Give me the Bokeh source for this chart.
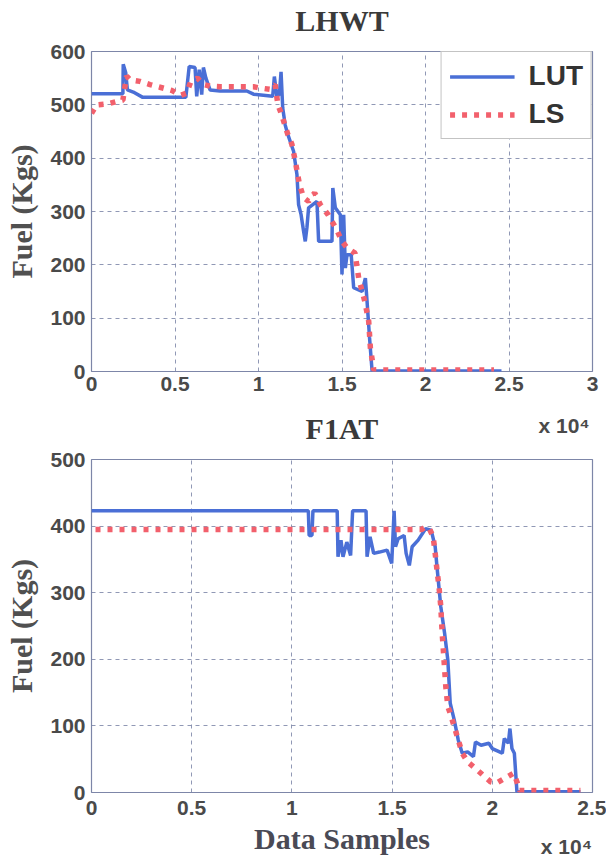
from bokeh.plotting import figure
from bokeh.models import (Range1d, FixedTicker, Legend, LegendItem, LinearAxis,
                          CustomJSTickFormatter)
from bokeh.layouts import column
from bokeh.embed import file_html
from bokeh.resources import INLINE

# ---------------- data (x in units of 10^4 samples, y in Kgs) ----------------
lhwt_lut_x = [0, 0.188, 0.19, 0.205, 0.215, 0.25, 0.307, 0.565, 0.585, 0.62,
              0.63, 0.645, 0.66, 0.67, 0.685, 0.71, 0.77, 0.93, 0.97, 1.085,
              1.095, 1.11, 1.125, 1.135, 1.145, 1.16, 1.175, 1.21, 1.23, 1.24,
              1.255, 1.27, 1.28, 1.29, 1.30, 1.35, 1.36, 1.44, 1.445, 1.46,
              1.49, 1.50, 1.51, 1.52, 1.53, 1.555, 1.57, 1.62, 1.64, 1.65,
              1.665, 1.68, 2.455]
lhwt_lut_y = [521, 521, 576, 560, 528, 524, 514, 514, 572, 570,
              516, 566, 519, 570, 550, 528, 526, 526, 520, 516,
              553, 516, 520, 562, 494, 462, 445, 413, 370, 313,
              294, 263, 244, 270, 307, 319, 244, 244, 344, 307,
              294, 182, 294, 194, 219, 219, 157, 150, 175, 132,
              63, 1, 1]

lhwt_ls_x = [0, 0.03, 0.1, 0.188, 0.21, 0.23, 0.29, 0.35, 0.41, 0.48,
             0.535, 0.57, 0.595, 0.635, 0.67, 0.71, 0.77, 0.97, 1.0, 1.07,
             1.1, 1.116, 1.13, 1.15, 1.175, 1.2, 1.22, 1.245, 1.27, 1.30,
             1.336, 1.37, 1.417, 1.463, 1.50, 1.53, 1.578, 1.60, 1.636, 1.66,
             1.67, 1.69, 2.41]
lhwt_ls_y = [484, 500, 502, 509, 554, 547, 544, 538, 533, 527,
             518, 522, 544, 550, 538, 535, 534, 534, 532, 529,
             538, 500, 489, 470, 445, 426, 395, 351, 326, 319,
             335, 313, 294, 269, 244, 232, 222, 175, 132, 94,
             44, 3, 3]

f1at_lut_x = [0, 1.082, 1.086, 1.10, 1.105, 1.226, 1.23, 1.245, 1.255, 1.274,
              1.293, 1.303, 1.37, 1.375, 1.39, 1.408, 1.437, 1.475, 1.498, 1.51,
              1.517, 1.53, 1.56, 1.57, 1.586, 1.60, 1.63, 1.667, 1.695, 1.715,
              1.724, 1.743, 1.762, 1.778, 1.79, 1.81, 1.83, 1.85, 1.877, 1.906,
              1.916, 1.944, 1.983, 2.0, 2.05, 2.06, 2.08, 2.088, 2.098, 2.11,
              2.123, 2.44]
f1at_lut_y = [423, 423, 386, 386, 423, 423, 354, 379, 354, 376,
              356, 423, 423, 354, 384, 359, 361, 364, 344, 423,
              369, 381, 386, 359, 341, 369, 379, 396, 394, 369,
              339, 279, 239, 199, 134, 109, 79, 59, 61, 54,
              76, 71, 74, 66, 59, 81, 74, 96, 66, 59,
              1, 1]

f1at_ls_x = [0.02, 1.648, 1.667, 1.686, 1.705, 1.715, 1.724, 1.734, 1.743, 1.75,
             1.759, 1.768, 1.778, 1.79, 1.81, 1.83, 1.85, 1.877, 1.916, 1.954,
             1.992, 2.02, 2.06, 2.107, 2.123, 2.136, 2.44]
f1at_ls_y = [395, 395, 399, 396, 384, 359, 334, 309, 279, 239,
             199, 159, 129, 119, 99, 79, 59, 46, 36, 26,
             16, 14, 21, 29, 16, 3, 3]

lhwt_xticks = [0, 0.5, 1, 1.5, 2, 2.5, 3]
lhwt_yticks = [0, 100, 200, 300, 400, 500, 600]
f1at_xticks = [0, 0.5, 1, 1.5, 2, 2.5]
f1at_yticks = [0, 100, 200, 300, 400, 500]

titles = ["LHWT", "F1AT"]
series_names = ["LUT", "LS"]
y_label = "Fuel (Kgs)"
x_label = "Data Samples"
scale_text = "x 10\u2074"
scale_pos = [2.83, 2.37]   # where the "x 10^4" note sits under each x axis

# ---------------- style ----------------
BLUE = "#4a6fd6"
RED = "#f2606c"
FRAME = "#7d86a8"
TXT = "#4a4a4a"
SERIF = "Liberation Serif"
SANS = "Liberation Sans"


def bare_axis(ax):
    ax.axis_line_color = None
    ax.major_tick_line_color = None
    ax.minor_tick_line_color = None
    ax.major_tick_out = 0
    ax.major_tick_in = 0
    ax.minor_tick_out = 0
    ax.minor_tick_in = 0


def serif_label(ax, text, standoff, color="#3a3a3a"):
    ax.axis_label = text
    ax.axis_label_text_font = SERIF
    ax.axis_label_text_font_style = "bold"
    ax.axis_label_text_font_size = "30px"
    ax.axis_label_text_color = color
    ax.axis_label_standoff = standoff


def sans_ticks(ax, standoff):
    ax.major_label_text_font = SANS
    ax.major_label_text_font_style = "bold"
    ax.major_label_text_font_size = "21px"
    ax.major_label_text_color = TXT
    ax.major_label_standoff = standoff


def make_fig(w, h, bl, br, bt, bb, xmax, ymax, xticks, yticks, xstand):
    p = figure(width=w, height=h, output_backend="svg", toolbar_location=None,
               x_range=Range1d(0, xmax), y_range=Range1d(0, ymax),
               min_border_left=bl, min_border_right=br,
               min_border_top=bt, min_border_bottom=bb)
    p.title = None
    p.background_fill_color = "white"
    p.border_fill_color = "white"
    p.outline_line_color = FRAME
    p.outline_line_width = 1.2
    p.xaxis.ticker = FixedTicker(ticks=xticks)
    p.yaxis.ticker = FixedTicker(ticks=yticks)
    p.xaxis.formatter = CustomJSTickFormatter(code="return tick.toString();")
    for ax in (p.xaxis, p.yaxis):
        bare_axis(ax)
    sans_ticks(p.xaxis, xstand)
    sans_ticks(p.yaxis, 6)
    serif_label(p.yaxis, y_label, 9, color="#505050")
    p.grid.grid_line_dash = "4 4"
    p.grid.grid_line_color = FRAME
    p.grid.grid_line_alpha = 0.85
    p.grid.grid_line_width = 1
    return p


def scale_axis(pos, standoff):
    ax = LinearAxis(ticker=FixedTicker(ticks=[pos]),
                    formatter=CustomJSTickFormatter(args=dict(t=scale_text), code="return t;"))
    bare_axis(ax)
    sans_ticks(ax, standoff)
    return ax


# ---------------- top: LHWT ----------------
p1 = make_fig(606, 449, 91, 10, 50, 78, 3, 600, lhwt_xticks, lhwt_yticks, 5)
# plot title, held by a label-only axis above the frame
top_ax = LinearAxis(ticker=FixedTicker(ticks=[]))
bare_axis(top_ax)
top_ax.major_label_standoff = 0
serif_label(top_ax, titles[0], 15)
p1.add_layout(top_ax, "above")
# "x 10^4" note of the upper x axis, with the lower plot's title on the same band
note_ax = scale_axis(scale_pos[0], 20)
serif_label(note_ax, titles[1], -28)
p1.add_layout(note_ax, "below")

r1 = p1.line(lhwt_lut_x, lhwt_lut_y, line_color=BLUE, line_width=3.5)
r2 = p1.line(lhwt_ls_x, lhwt_ls_y, line_color=RED, line_width=5.5, line_dash="5 7")
legend = Legend(items=[LegendItem(label=series_names[0], renderers=[r1]),
                       LegendItem(label=series_names[1], renderers=[r2])],
                location="top_right", margin=0, padding=8, spacing=6,
                glyph_width=65, glyph_height=29, label_height=29, label_standoff=14,
                label_text_font=SANS, label_text_font_style="bold",
                label_text_font_size="28px", label_text_color="#333333",
                border_line_color="#888888", border_line_width=1,
                background_fill_color="white", background_fill_alpha=1)
p1.add_layout(legend)

# ---------------- bottom: F1AT ----------------
p2 = make_fig(606, 411, 90, 14, 10, 68, 2.5, 500, f1at_xticks, f1at_yticks, 8)
p2.line(f1at_lut_x, f1at_lut_y, line_color=BLUE, line_width=3.5)
p2.line(f1at_ls_x, f1at_ls_y, line_color=RED, line_width=5.5, line_dash="5 7")
serif_label(p2.xaxis[0], x_label, 4, color="#4a4a55")
p2.add_layout(scale_axis(scale_pos[1], -23), "below")

layout = column(p1, p2, spacing=0)
open("out.html", "w").write(file_html(layout, INLINE))
